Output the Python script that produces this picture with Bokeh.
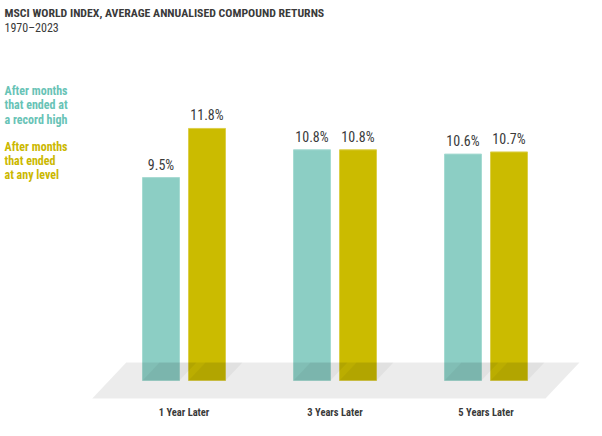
from bokeh.plotting import figure
from bokeh.models import Range1d, Label
from bokeh.core.properties import value
from bokeh.embed import file_html
from bokeh.resources import INLINE

# ---- data ----
categories = ["1 Year Later", "3 Years Later", "5 Years Later"]
record_high = [9.5, 10.8, 10.6]
any_level = [11.8, 10.8, 10.7]
series_names = ["After months\nthat ended at\na record high", "After months\nthat ended\nat any level"]
title_text = "MSCI WORLD INDEX, AVERAGE ANNUALISED COMPOUND RETURNS"
subtitle_text = "1970\u20132023"

TEAL = "#8ccec4"
GOLD = "#cbbb00"
TEAL_TXT = "#68c3b6"
GOLD_TXT = "#cbb800"
DARK = "#3a3a3a"
FONT = "Roboto Condensed"

W, H = 602, 436
PX_X = 151.0
PX_Y = 21.36
x0_px, y0_px = 183.5, 56.0

p = figure(width=W, height=H, output_backend="svg", toolbar_location=None,
           min_border=0, x_range=Range1d(-x0_px / PX_X, (W - x0_px) / PX_X),
           y_range=Range1d(-y0_px / PX_Y, (H - y0_px) / PX_Y))
p.axis.visible = False
p.grid.visible = False
p.outline_line_color = None

idx = list(range(len(categories)))
off = 23 / PX_X
bw = 37 / PX_X
xa = [i - off for i in idx]
xb = [i + off for i in idx]

p.vbar(x=xa, top=record_high, bottom=0, width=bw, fill_color=TEAL, line_color="#a6dbd2", line_width=1)
p.vbar(x=xb, top=any_level, bottom=0, width=bw, fill_color=GOLD, line_color="#dccf4a", line_width=1)

# decorative floor
fh = 18 / PX_Y
sl = 17 / PX_X
left_pad = 57.8 / PX_X
right_pad = 93.5 / PX_X
fx = [idx[0] - left_pad, idx[-1] + right_pad, idx[-1] + right_pad - 2 * sl, idx[0] - left_pad - 2 * sl]
fy = [fh, fh, -fh, -fh]
p.patch(fx, fy, fill_color="black", fill_alpha=0.075, line_color=None)

# bar shadows on the floor
sxs, sys = [], []
for xc in xa + xb:
    l, r = xc - bw / 2, xc + bw / 2
    sxs.append([l, r, r + sl, l + sl])
    sys.append([0, 0, fh, fh])
p.patches(sxs, sys, fill_color="black", fill_alpha=0.045, line_color=None)

# value labels
for xs, vals in [(xa, record_high), (xb, any_level)]:
    p.text(x=xs, y=vals, text=[f"{v}%" for v in vals], text_align="center",
           text_baseline="bottom", y_offset=-5, text_font=value(FONT), text_font_size="14px",
           text_color=DARK)

# category labels
p.text(x=idx, y=[0] * 3, text=categories, text_align="center", text_baseline="middle",
       y_offset=32, text_font=value(FONT), text_font_size="10.5px", text_font_style="bold",
       text_color=DARK)

# title
p.add_layout(Label(x=4, y=H - 12, x_units="screen", y_units="screen", text=title_text,
                   text_font=FONT, text_font_size="11.8px", text_font_style="bold",
                   text_color=DARK, text_baseline="middle"))
p.add_layout(Label(x=4, y=H - 27, x_units="screen", y_units="screen", text=subtitle_text,
                   text_font=FONT, text_font_size="12px",
                   text_color=DARK, text_baseline="middle"))

# series notes, one label per line
for name, col, ymid in [(series_names[0], TEAL_TXT, 90.5), (series_names[1], GOLD_TXT, 146)]:
    for k, line in enumerate(name.split("\n")):
        p.add_layout(Label(x=4, y=H - (ymid + 14.3 * k), x_units="screen", y_units="screen",
                           text=line, text_font=FONT, text_font_size="12px",
                           text_font_style="bold", text_color=col, text_baseline="middle"))

open("out.html", "w").write(file_html(p, INLINE))
